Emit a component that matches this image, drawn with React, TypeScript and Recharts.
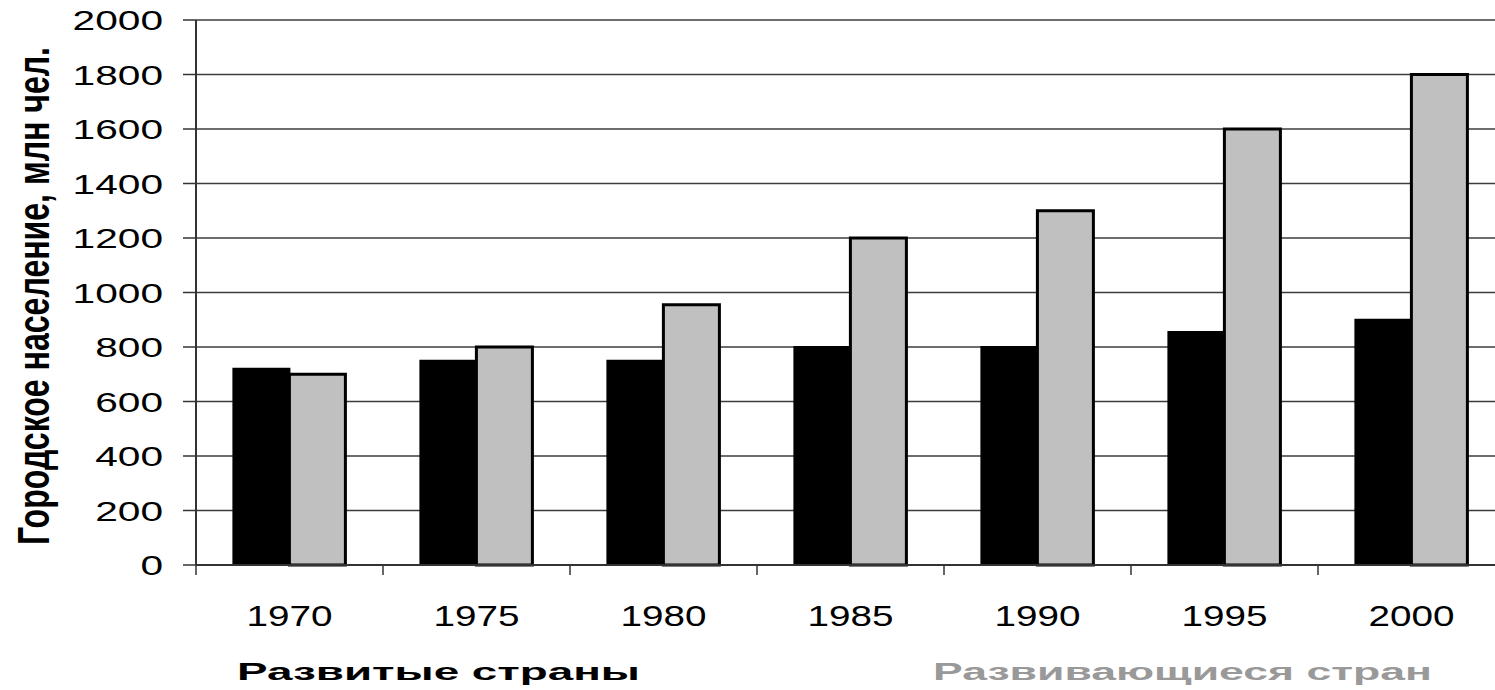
import React from "react";
import { BarChart, Bar, XAxis, YAxis, CartesianGrid, Label } from "recharts";

const years = ["1970", "1975", "1980", "1985", "1990", "1995", "2000"];
const developed = [720, 750, 750, 800, 800, 855, 900];
const developing = [700, 800, 955, 1200, 1300, 1600, 1800];
const yTicks = [0, 200, 400, 600, 800, 1000, 1200, 1400, 1600, 1800, 2000];
const boundaryTicks = [0, 1, 2, 3, 4, 5, 6, 7];
const seriesNames = ["Развитые страны", "Развивающиеся стран"];
const yTitle = "Городское население, млн чел.";

const data = years.map((y, i) => ({ year: y, pos: i + 0.5, dev: developed[i], devg: developing[i] }));

const FONT = "'Liberation Sans', Arial, sans-serif";

const YTick = (props: any) => {
  const { y, payload } = props;
  const s = String(payload.value);
  const len = s.length * 22.6;
  return (
    <text
      x={163 - len}
      y={y + 10}
      textLength={len}
      lengthAdjust="spacingAndGlyphs"
      fontSize={28}
      fontFamily={FONT}
      fill="#000"
    >
      {s}
    </text>
  );
};

const XTick = (props: any) => {
  const { x, y, payload } = props;
  return (
    <text
      x={x}
      y={y + 52}
      textAnchor="middle"
      textLength={86}
      lengthAdjust="spacingAndGlyphs"
      fontSize={30}
      fontFamily={FONT}
      fill="#000"
    >
      {payload.value}
    </text>
  );
};

const EmptyTick = () => <g />;

const YTitle = () => (
  <text
    transform="translate(49, 296) scale(1.5, 1) rotate(-90)"
    textAnchor="middle"
    textLength={498}
    lengthAdjust="spacingAndGlyphs"
    fontSize={30}
    fontWeight="bold"
    fontFamily={FONT}
    fill="#000"
  >
    {yTitle}
  </text>
);

const LegendTexts = () => (
  <g>
    <text
      x={237}
      y={680}
      textLength={403}
      lengthAdjust="spacingAndGlyphs"
      fontSize={24}
      fontWeight="bold"
      fontFamily={FONT}
      fill="#000"
    >
      {seriesNames[0]}
    </text>
    <text
      x={933}
      y={680}
      textLength={499}
      lengthAdjust="spacingAndGlyphs"
      fontSize={24}
      fontWeight="bold"
      fontFamily={FONT}
      fill="#999999"
    >
      {seriesNames[1]}
    </text>
  </g>
);

export default function App() {
  return (
    <div style={{ position: "absolute", left: 0, top: 0, width: 1495, height: 690, overflow: "hidden", background: "#fff" }}>
      <BarChart
        width={1510}
        height={690}
        data={data}
        margin={{ top: 20, right: 5, bottom: 64, left: 0 }}
        barCategoryGap="20%"
        barGap={0}
      >
        <CartesianGrid xAxisId="c" vertical={false} stroke="#3c3c3c" strokeWidth={1.6} />
        <XAxis
          xAxisId="b"
          dataKey="pos"
          type="number"
          domain={[0, 7]}
          ticks={boundaryTicks}
          tick={<EmptyTick />}
          tickSize={10}
          tickLine={{ stroke: "#333", strokeWidth: 1.5 }}
          axisLine={{ stroke: "#333", strokeWidth: 2 }}
          height={1}
          interval={0}
          allowDataOverflow
        />
        <XAxis
          xAxisId="c"
          dataKey="year"
          tickLine={false}
          axisLine={false}
          tick={<XTick />}
          height={60}
          interval={0}
        >
          <Label content={<LegendTexts />} />
        </XAxis>
        <YAxis
          domain={[0, 2000]}
          ticks={yTicks}
          width={196}
          tickSize={13}
          tick={<YTick />}
          tickLine={{ stroke: "#333", strokeWidth: 1.5 }}
          axisLine={{ stroke: "#333", strokeWidth: 2 }}
          interval={0}
        >
          <Label content={<YTitle />} />
        </YAxis>
        <Bar xAxisId="c" dataKey="dev" fill="#000000" stroke="#000000" strokeWidth={2} isAnimationActive={false} />
        <Bar xAxisId="c" dataKey="devg" fill="#C0C0C0" stroke="#000000" strokeWidth={3} isAnimationActive={false} />
      </BarChart>
    </div>
  );
}
